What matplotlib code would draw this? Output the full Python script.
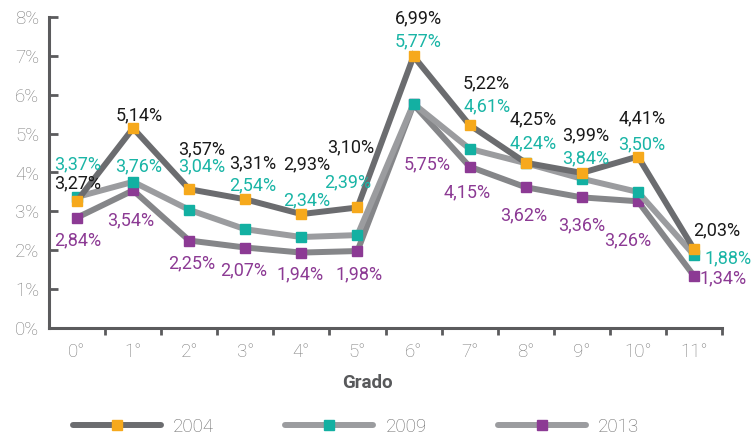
import matplotlib
matplotlib.use('Agg')
import matplotlib.pyplot as plt
from matplotlib.lines import Line2D

plt.rcParams['font.family'] = ['Roboto', 'DejaVu Sans']

grados = ['0°', '1°', '2°', '3°', '4°', '5°', '6°', '7°', '8°', '9°', '10°', '11°']
v2004 = [3.27, 5.14, 3.57, 3.31, 2.93, 3.10, 6.99, 5.22, 4.25, 3.99, 4.41, 2.03]
v2009 = [3.37, 3.76, 3.04, 2.54, 2.34, 2.39, 5.77, 4.61, 4.24, 3.84, 3.50, 1.88]
v2013 = [2.84, 3.54, 2.25, 2.07, 1.94, 1.98, 5.75, 4.15, 3.62, 3.36, 3.26, 1.34]

# label offsets from the marker, in pixels (dx right, dy up)
off2004 = [(1, 18), (6, 13), (12, 40), (7, 36), (5, 50), (-7, 60),
           (5, 38), (17, 42), (7, 43), (4, 38), (4, 38), (23, 19)]
off2009 = [(1, 33), (5, 15), (12, 43), (7, 44), (5, 37), (-10, 53),
           (5, 62), (17, 42), (7, 20), (4, 20), (4, 48), (34, -3)]
off2013 = [(1, -23), (-2, -30), (2, -23), (-2, -23), (-1, -22), (2, -23),
           (14, -60), (-3, -26), (-2, -28), (0, -28), (-10, -39), (29, -2)]

series = [
    ('2013', v2013, off2013, '#858689', '#8c3a94', '#8c3a94'),
    ('2009', v2009, off2009, '#9b9c9f', '#13b0a2', '#1ab5a6'),
    ('2004', v2004, off2004, '#6b6c6f', '#f6a91c', '#1a1a1a'),
]

fig = plt.figure(figsize=(7.54, 4.40), dpi=100)
ax = fig.add_axes([49 / 754, 1 - 328 / 440, (722 - 49) / 754, (328 - 17) / 440])

x = list(range(len(grados)))
for name, vals, offs, lc, mc, tc in series:
    ax.plot(x, vals, color=lc, lw=4.3, marker='s', ms=7, mfc=mc, mec=mc,
            solid_joinstyle='miter', clip_on=False, zorder=3)
    for i, v in enumerate(vals):
        dx, dy = offs[i]
        ax.annotate(f'{v:.2f}'.replace('.', ',') + '%', (i, v),
                    xytext=(dx * 0.72, dy * 0.72), textcoords='offset points',
                    ha='center', va='center', fontsize=13, color=tc, zorder=5)

ax.set_xlim(-0.5, 11.5)
ax.set_ylim(0, 8)
ax.set_yticks(range(0, 9))
ax.set_yticklabels([f'{t}%' for t in range(0, 9)])
ax.set_xticks([i + 0.5 for i in range(12)])
ax.set_xticklabels([])
ax.set_xticks(x, minor=True)
ax.set_xticklabels(grados, minor=True)

for s in ['top', 'right']:
    ax.spines[s].set_visible(False)
for s in ['left', 'bottom']:
    ax.spines[s].set_color('#5b5b5d')
    ax.spines[s].set_linewidth(2.2)

ax.tick_params(axis='y', direction='in', length=6.5, width=2, color='#5b5b5d',
               labelsize=13.5, labelcolor='#7d7d7d', pad=7)
ax.tick_params(axis='x', which='major', direction='out', length=5, width=2,
               color='#5b5b5d')
ax.tick_params(axis='x', which='minor', length=0, labelsize=13.5,
               labelcolor='#7d7d7d', pad=11)
for lab in ax.get_yticklabels() + ax.get_xticklabels(minor=True):
    lab.set_fontweight('light')

fig.text(367 / 754, 1 - 383 / 440, 'Grado', ha='center', va='center',
         fontsize=13.5, fontweight='bold', color='#58595b')

handles = [
    Line2D([], [], color='#6b6c6f', lw=4.3, marker='s', ms=7, mfc='#f6a91c',
           mec='#f6a91c', solid_capstyle='round'),
    Line2D([], [], color='#9b9c9f', lw=4.3, marker='s', ms=7, mfc='#13b0a2',
           mec='#13b0a2', solid_capstyle='round'),
    Line2D([], [], color='#9b9c9f', lw=4.3, marker='s', ms=7, mfc='#8c3a94',
           mec='#8c3a94', solid_capstyle='round'),
]
leg = fig.legend(handles, ['2004', '2009', '2013'], loc='center',
                 bbox_to_anchor=(356 / 754, 1 - 427 / 440), ncol=3, frameon=False,
                 handlelength=4.7, handletextpad=0.65, columnspacing=3.8,
                 numpoints=1, fontsize=13.5)
for t in leg.get_texts():
    t.set_color('#6a6a6a')
    t.set_fontweight('light')

fig.savefig('out.png', dpi=100)
